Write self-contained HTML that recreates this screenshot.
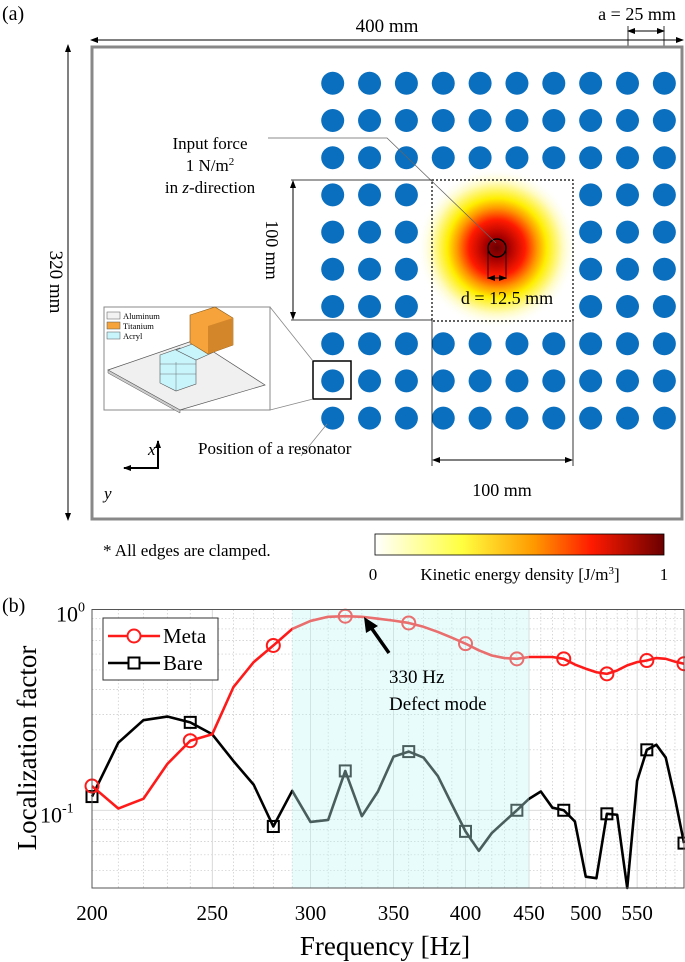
<!DOCTYPE html>
<html><head><meta charset="utf-8"><style>
html,body{margin:0;padding:0;background:#fff;}
svg{display:block;font-family:"Liberation Serif",serif;}
</style></head><body>
<svg id="fig" width="685" height="962" viewBox="0 0 685 962" xmlns="http://www.w3.org/2000/svg">
<defs>
<radialGradient id="heat" cx="497" cy="248" r="80" gradientUnits="userSpaceOnUse">
<stop offset="0" stop-color="#6b0000"/>
<stop offset="0.15" stop-color="#a80000"/>
<stop offset="0.35" stop-color="#ff1a00"/>
<stop offset="0.5" stop-color="#ff9900"/>
<stop offset="0.62" stop-color="#ffee00"/>
<stop offset="0.82" stop-color="#fffbc0"/>
<stop offset="1" stop-color="#ffffff" stop-opacity="0"/>
</radialGradient>
<linearGradient id="cbar" x1="0" x2="1" y1="0" y2="0">
<stop offset="0" stop-color="#ffffff"/>
<stop offset="0.3" stop-color="#ffff40"/>
<stop offset="0.55" stop-color="#ff9900"/>
<stop offset="0.75" stop-color="#ff1a00"/>
<stop offset="1" stop-color="#6b0000"/>
</linearGradient>
<marker id="ah" markerWidth="8" markerHeight="8" refX="7" refY="4" orient="auto-start-reverse" markerUnits="userSpaceOnUse"><path d="M0,1 L8,4 L0,7 z" fill="#000"/></marker>
</defs>

<text x="2" y="20" font-size="20">(a)</text>
<g>
<line x1="91" y1="40" x2="683" y2="40" stroke="#000" stroke-width="1" marker-start="url(#ah)" marker-end="url(#ah)"/>
<text x="387" y="32" font-size="19" text-anchor="middle">400 mm</text>
</g>
<g>
<text x="637" y="20" font-size="18" text-anchor="middle">a = 25 mm</text>
<line x1="628" y1="26" x2="628" y2="73" stroke="#000" stroke-width="0.8"/>
<line x1="664" y1="26" x2="664" y2="73" stroke="#000" stroke-width="0.8"/>
<line x1="628" y1="31" x2="664" y2="31" stroke="#000" stroke-width="1" marker-start="url(#ah)" marker-end="url(#ah)"/>
</g>
<g>
<line x1="68" y1="45" x2="68" y2="520" stroke="#000" stroke-width="1" marker-start="url(#ah)" marker-end="url(#ah)"/>
<text x="0" y="0" font-size="19" text-anchor="middle" transform="translate(50,282) rotate(90)">320 mm</text>
</g>
<rect x="92" y="47" width="590" height="472" fill="#fff" stroke="#888" stroke-width="3"/>
<rect x="410" y="160" width="175" height="176" fill="url(#heat)"/>
<g id="dots"></g>
<rect x="432" y="180" width="141" height="141" fill="none" stroke="#000" stroke-width="1.2" stroke-dasharray="2,2"/>
<circle cx="497" cy="248" r="9" fill="none" stroke="#000" stroke-width="1.5"/>
<g>
<line x1="488" y1="248" x2="488" y2="279" stroke="#000" stroke-width="0.8"/>
<line x1="506" y1="248" x2="506" y2="279" stroke="#000" stroke-width="0.8"/>
<line x1="488" y1="278" x2="506" y2="278" stroke="#000" stroke-width="1" marker-start="url(#ah)" marker-end="url(#ah)"/>
<text x="507" y="304" font-size="18" text-anchor="middle">d = 12.5 mm</text>
</g>
<g>
<text x="210" y="149" font-size="17" text-anchor="middle">Input force</text>
<text x="210" y="171" font-size="17" text-anchor="middle">1 N/m<tspan font-size="11" dy="-6">2</tspan></text>
<text x="210" y="193" font-size="17" text-anchor="middle">in <tspan font-style="italic">z</tspan>-direction</text>
<polyline points="268,138 387,138 496,243" fill="none" stroke="#666" stroke-width="0.8"/>
</g>
<g>
<line x1="291" y1="180" x2="432" y2="180" stroke="#000" stroke-width="0.8"/>
<line x1="291" y1="320" x2="432" y2="320" stroke="#000" stroke-width="0.8"/>
<line x1="293" y1="181" x2="293" y2="319" stroke="#000" stroke-width="1" marker-start="url(#ah)" marker-end="url(#ah)"/>
<text x="0" y="0" font-size="18" text-anchor="middle" transform="translate(266,250) rotate(90)">100 mm</text>
</g>
<g>
<line x1="432" y1="320" x2="432" y2="466" stroke="#000" stroke-width="0.8"/>
<line x1="573" y1="320" x2="573" y2="466" stroke="#000" stroke-width="0.8"/>
<line x1="433" y1="460" x2="572" y2="460" stroke="#000" stroke-width="1" marker-start="url(#ah)" marker-end="url(#ah)"/>
<text x="502" y="496" font-size="18" text-anchor="middle">100 mm</text>
</g>
<g>
<rect x="313" y="361" width="38" height="38" fill="none" stroke="#000" stroke-width="1.5"/>
<line x1="270" y1="307" x2="313" y2="361" stroke="#888" stroke-width="0.8"/>
<line x1="270" y1="410" x2="313" y2="399" stroke="#888" stroke-width="0.8"/>
<rect x="104" y="307" width="166" height="103" fill="#fff" stroke="#888" stroke-width="1"/>
<polygon points="108,370 195,340 265,385 180,410" fill="#f0f0f0" stroke="#555" stroke-width="0.7"/>
<polygon points="108,370 180,410 180,413 108,373" fill="#ccc" stroke="#555" stroke-width="0.5"/>
<polygon points="160,355 180,348 196,356 196,384 176,391 160,383" fill="#c8f4fb" stroke="#555" stroke-width="0.6"/>
<line x1="160" y1="364" x2="196" y2="364" stroke="#555" stroke-width="0.4"/>
<line x1="160" y1="374" x2="196" y2="374" stroke="#555" stroke-width="0.4"/>
<line x1="176" y1="362" x2="176" y2="391" stroke="#555" stroke-width="0.4"/>
<polygon points="176,350 198,342 214,352 196,360" fill="#c8f4fb" stroke="#555" stroke-width="0.6"/>
<polygon points="190,315 215,307 233,318 233,345 208,354 190,343" fill="#f5a33a" stroke="#8a5a1a" stroke-width="0.6"/>
<polygon points="208,326 233,318 233,345 208,354" fill="#d4862a"/>
<rect x="107" y="312" width="13" height="7" fill="#f2f2f2" stroke="#555" stroke-width="0.5"/>
<text x="123" y="319" font-size="8.5">Aluminum</text>
<rect x="107" y="322" width="13" height="7" fill="#f5a33a" stroke="#555" stroke-width="0.5"/>
<text x="123" y="329" font-size="8.5">Titanium</text>
<rect x="107" y="332" width="13" height="7" fill="#c8f4fb" stroke="#555" stroke-width="0.5"/>
<text x="123" y="339" font-size="8.5">Acryl</text>
</g>
<g>
<line x1="327" y1="424" x2="301" y2="456" stroke="#888" stroke-width="0.8"/>
<text x="198" y="454" font-size="17">Position of a resonator</text>
</g>
<g>
<line x1="158" y1="469" x2="158" y2="441" stroke="#000" stroke-width="2" marker-end="url(#ah)"/>
<line x1="159" y1="468" x2="124" y2="468" stroke="#000" stroke-width="2" marker-end="url(#ah)"/>
<text x="148" y="455" font-size="17" font-style="italic">x</text>
<text x="104" y="499" font-size="17" font-style="italic">y</text>
</g>
<text x="103" y="556" font-size="17">* All edges are clamped.</text>
<g>
<rect x="375" y="534" width="289" height="21" fill="url(#cbar)" stroke="#000" stroke-width="0.8"/>
<text x="373" y="580" font-size="17" text-anchor="middle">0</text>
<text x="520" y="580" font-size="17" text-anchor="middle">Kinetic energy density [J/m<tspan font-size="11" dy="-6">3</tspan><tspan dy="6">]</tspan></text>
<text x="664" y="580" font-size="17" text-anchor="middle">1</text>
</g>

<text x="2" y="612" font-size="20">(b)</text>
<g id="chart"></g>
</svg>
<script>
const freqs = [200,210,220,230,240,250,260,270,280,290,300,310,320,330,340,350,360,370,380,390,400,410,420,430,440,450,460,470,480,490,500,510,520,530,540,550,560,570,580,590,600];
const metaValues = [0.132,0.102,0.114,0.17,0.222,0.239,0.41,0.547,0.662,0.80,0.877,0.92,0.926,0.92,0.90,0.88,0.857,0.82,0.773,0.724,0.676,0.626,0.59,0.573,0.568,0.58,0.58,0.58,0.568,0.532,0.507,0.487,0.478,0.497,0.527,0.547,0.557,0.573,0.568,0.55,0.537];
const bareValues = [0.117,0.217,0.281,0.293,0.274,0.239,0.176,0.134,0.083,0.125,0.0875,0.0895,0.157,0.0934,0.124,0.185,0.196,0.183,0.148,0.107,0.0785,0.0628,0.077,0.088,0.1,0.114,0.124,0.103,0.1,0.088,0.0467,0.0459,0.096,0.095,0.041,0.14,0.2,0.212,0.183,0.115,0.0686];
const xTicks = [200,250,300,350,400,450,500,550];
const shadeBand = [290,450];

const NS = "http://www.w3.org/2000/svg";
function mk(tag, attrs, parent){const e=document.createElementNS(NS,tag);for(const k in attrs)e.setAttribute(k,attrs[k]);parent.appendChild(e);return e;}

const dots=document.getElementById('dots');
for(let r=0;r<10;r++)for(let c=0;c<10;c++){
  if(r>=3&&r<=6&&c>=3&&c<=6)continue;
  const d=mk('circle',{cx:332.7+c*36.85,cy:83.3+r*37.2,r:11.5,fill:'#0a6fbf'},dots);
  
  
}

const L=92,R=684,T=609.5,B=888,fMin=200,fMax=600,vMin=0.041,vMax=1;
const X=f=>L+Math.log10(f/fMin)/Math.log10(fMax/fMin)*(R-L);
const Y=v=>T+(Math.log10(vMax)-Math.log10(v))/(Math.log10(vMax)-Math.log10(vMin))*(B-T);
const g=document.getElementById('chart');
mk('rect',{x:L,y:T,width:R-L,height:B-T,fill:'#fff'},g);
for(let f=210;f<600;f+=10){mk('line',{x1:X(f),x2:X(f),y1:T,y2:B,stroke:'#c8c8c8','stroke-width':0.7,'stroke-dasharray':xTicks.includes(f)?'':'1.5,2'},g);}
[0.05,0.06,0.07,0.08,0.09,0.2,0.3,0.4,0.5,0.6,0.7,0.8,0.9].forEach(v=>mk('line',{x1:L,x2:R,y1:Y(v),y2:Y(v),stroke:'#c8c8c8','stroke-width':0.7,'stroke-dasharray':'1.5,2'},g));
mk('line',{x1:L,x2:R,y1:Y(0.1),y2:Y(0.1),stroke:'#cfcfcf','stroke-width':0.8},g);
function series(vals,color,name,marker){
  const pl=mk('polyline',{points:freqs.map((f,i)=>X(f)+','+Y(vals[i])).join(' '),fill:'none',stroke:color,'stroke-width':2.6,'stroke-linejoin':'round'},g);
  
  
  freqs.forEach((f,i)=>{ if(i%4!==0) return;
    let m;
    if(marker==='o') m=mk('circle',{cx:X(f),cy:Y(vals[i]),r:6.5,fill:'none',stroke:color,'stroke-width':2},g);
    else m=mk('rect',{x:X(f)-5.5,y:Y(vals[i])-5.5,width:11,height:11,fill:'none',stroke:color,'stroke-width':2},g);
    
    
  });
}
series(bareValues,'#000','bare','s');
series(metaValues,'#ff1a1a','meta','o');
const band=mk('rect',{x:X(shadeBand[0]),y:T,width:X(shadeBand[1])-X(shadeBand[0]),height:B-T,fill:'#c4f7f7','fill-opacity':0.38},g);


mk('rect',{x:L,y:T,width:R-L,height:B-T,fill:'none',stroke:'#555','stroke-width':1},g);
xTicks.forEach(f=>{const t=mk('text',{x:X(f),y:920,'font-size':21,'text-anchor':'middle'},g);t.textContent=f;
  
  });
const y0=mk('text',{x:56,y:Y(1)+12,'font-size':22},g);y0.innerHTML='10<tspan font-size="14" dy="-10">0</tspan>';


const y1=mk('text',{x:40,y:Y(0.1)+12,'font-size':22},g);y1.innerHTML='10<tspan font-size="14" dy="-10">-1</tspan>';


const xl=mk('text',{x:385,y:955,'font-size':27,'text-anchor':'middle'},g);xl.textContent='Frequency [Hz]';


const yl=mk('text',{x:0,y:0,'font-size':27,'text-anchor':'middle',transform:'translate(36,748) rotate(-90)'},g);yl.textContent='Localization factor';


const lg=mk('g',{},g);


mk('rect',{x:103,y:618,width:115,height:62,fill:'#fff',stroke:'#333','stroke-width':1},lg);
mk('line',{x1:108,x2:160,y1:636,y2:636,stroke:'#ff1a1a','stroke-width':2.6},lg);
mk('circle',{cx:134,cy:636,r:6.5,fill:'#fff',stroke:'#ff1a1a','stroke-width':2},lg);
mk('line',{x1:108,x2:160,y1:663,y2:663,stroke:'#000','stroke-width':2.6},lg);
mk('rect',{x:128.5,y:657.5,width:11,height:11,fill:'#fff',stroke:'#000','stroke-width':2},lg);
const t1=mk('text',{x:163,y:643,'font-size':21},lg);t1.textContent='Meta';
const t2=mk('text',{x:163,y:670,'font-size':21},lg);t2.textContent='Bare';
const an=mk('g',{},g);


mk('line',{x1:389,y1:653,x2:370,y2:626,stroke:'#000','stroke-width':3.5},an);
mk('polygon',{points:'364,617 378,626 366,633',fill:'#000'},an);
const a1=mk('text',{x:389,y:683,'font-size':19},an);a1.textContent='330 Hz';
const a2=mk('text',{x:389,y:710,'font-size':19},an);a2.textContent='Defect mode';
</script>
</body></html>
